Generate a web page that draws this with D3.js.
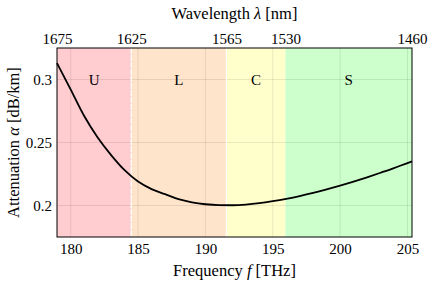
<!DOCTYPE html>
<html>
<head>
<meta charset="utf-8">
<script src="https://cdn.jsdelivr.net/npm/d3@7"></script>
<style>
  body { margin: 0; background: #fff; }
</style>
</head>
<body>
<div id="chart"></div>
<script>
// attenuation curve (frequency in THz, dB/km)
const freq = [178.98, 180, 181, 182, 183, 184, 185, 186, 187, 188, 189, 190, 191, 192, 193, 194, 195, 196, 197, 198, 199, 200, 201, 202, 203, 204, 205, 205.34];
const atten = [0.313, 0.292, 0.271, 0.254, 0.240, 0.228, 0.219, 0.213, 0.209, 0.205, 0.2025, 0.201, 0.2003, 0.2002, 0.2007, 0.2018, 0.2034, 0.2053, 0.2075, 0.2100, 0.2128, 0.2158, 0.2190, 0.2224, 0.2260, 0.2297, 0.2337, 0.2350];

// bands in wavelength (nm)
const bandNames = ["U", "L", "C", "S"];
const bandEdges = [1675, 1625, 1565, 1530, 1460];
const bandColors = ["#ffccd0", "#ffe4cc", "#ffffcc", "#ccffcc"];

const freqTicks = [180, 185, 190, 195, 200, 205];
const wlTicks = [1675, 1625, 1565, 1530, 1460];
const yTicks = [0.2, 0.25, 0.3];

const c = 299792.458; // nm*THz
const width = 432, height = 285;
const margin = { top: 48, right: 20, bottom: 48, left: 57 };
const serif = "'Liberation Serif', 'Times New Roman', Times, 'DejaVu Serif', serif";

const svg = d3.select("#chart").append("svg")
  .attr("width", width)
  .attr("height", height)
  .style("font-family", serif);

const x = d3.scaleLinear()
  .domain([c / 1675, c / 1460])
  .range([margin.left, width - margin.right]);

const y = d3.scaleLinear()
  .domain([0.175, 0.325])
  .range([height - margin.bottom, margin.top]);

// coloured bands
const bands = bandNames.map((n, i) => ({ name: n, f0: c / bandEdges[i], f1: c / bandEdges[i + 1], color: bandColors[i] }));

svg.selectAll("rect.band")
  .data(bands)
  .enter()
  .append("rect")
  .attr("class", "band")
  .attr("x", d => x(d.f0))
  .attr("y", margin.top)
  .attr("width", d => x(d.f1) - x(d.f0))
  .attr("height", y(0.175) - y(0.325))
  .attr("fill", d => d.color);

// grid
svg.append("g")
  .selectAll("line")
  .data(freqTicks)
  .enter()
  .append("line")
  .attr("x1", d => x(d)).attr("x2", d => x(d))
  .attr("y1", margin.top).attr("y2", height - margin.bottom)
  .attr("stroke", "rgba(0,0,0,0.09)").attr("stroke-width", 1);

svg.append("g")
  .selectAll("line")
  .data(yTicks)
  .enter()
  .append("line")
  .attr("x1", margin.left).attr("x2", width - margin.right)
  .attr("y1", d => y(d)).attr("y2", d => y(d))
  .attr("stroke", "rgba(0,0,0,0.09)").attr("stroke-width", 1);

// white separators between U/L and L/C
svg.append("g")
  .selectAll("line")
  .data([bandEdges[1], bandEdges[2]])
  .enter()
  .append("line")
  .attr("x1", d => x(c / d)).attr("x2", d => x(c / d))
  .attr("y1", margin.top).attr("y2", height - margin.bottom)
  .attr("stroke", "#fff").attr("stroke-width", 1.2)
  .attr("stroke-dasharray", (d, i) => i == 0 ? "6,1" : null);

// band labels
svg.selectAll("text.band")
  .data(bands)
  .enter()
  .append("text")
  .attr("class", "band")
  .attr("x", d => x((d.f0 + d.f1) / 2))
  .attr("y", y(0.3))
  .attr("dy", "0.35em")
  .attr("text-anchor", "middle")
  .attr("font-family", serif)
  .attr("font-size", 15)
  .text(d => d.name);

// curve
const pts = freq.map((f, i) => [f, atten[i]]);
svg.append("path")
  .datum(pts)
  .attr("d", d3.line().x(d => x(d[0])).y(d => y(d[1])).curve(d3.curveMonotoneX))
  .attr("fill", "none")
  .attr("stroke", "#000")
  .attr("stroke-width", 1.8);

// frame
svg.append("rect")
  .attr("x", margin.left).attr("y", margin.top)
  .attr("width", width - margin.left - margin.right)
  .attr("height", height - margin.top - margin.bottom)
  .attr("fill", "none").attr("stroke", "#000").attr("stroke-width", 1);

// axes
const xAxis = svg.append("g")
  .attr("transform", `translate(0,${height - margin.bottom})`)
  .call(d3.axisBottom(x).tickValues(freqTicks).tickSize(0).tickPadding(6).tickFormat(d3.format("d")));

const topAxis = svg.append("g")
  .attr("transform", `translate(0,${margin.top})`)
  .call(d3.axisTop(x).tickValues(wlTicks.map(w => c / w)).tickSize(0).tickPadding(4)
    .tickFormat(d => Math.round(c / d)));

const yAxis = svg.append("g")
  .attr("transform", `translate(${margin.left},0)`)
  .call(d3.axisLeft(y).tickValues(yTicks).tickSize(0).tickPadding(5).tickFormat(d => String(d)));

[xAxis, topAxis, yAxis].forEach(a => {
  a.select(".domain").remove();
  a.attr("font-family", serif).attr("font-size", 15);
  a.selectAll("text").attr("fill", "#000");
});

// axis titles
const xl = svg.append("text")
  .attr("x", (margin.left + width - margin.right) / 2)
  .attr("y", 276)
  .attr("text-anchor", "middle")
  .attr("font-family", serif)
  .attr("font-size", 16.5);
xl.append("tspan").text("Frequency ");
xl.append("tspan").attr("font-style", "italic").text("f");
xl.append("tspan").text("  [THz]");

const tl = svg.append("text")
  .attr("x", (margin.left + width - margin.right) / 2)
  .attr("y", 19)
  .attr("text-anchor", "middle")
  .attr("font-family", serif)
  .attr("font-size", 16.5);
tl.append("tspan").text("Wavelength ");
tl.append("tspan").attr("font-style", "italic").text("λ");
tl.append("tspan").text(" [nm]");

const yl = svg.append("text")
  .attr("transform", `translate(19,${(margin.top + height - margin.bottom) / 2}) rotate(-90)`)
  .attr("text-anchor", "middle")
  .attr("font-family", serif)
  .attr("font-size", 16.5);
yl.append("tspan").text("Attenuation ");
yl.append("tspan").attr("font-style", "italic").text("α");
yl.append("tspan").text(" [dB/km]");
</script>
</body>
</html>
